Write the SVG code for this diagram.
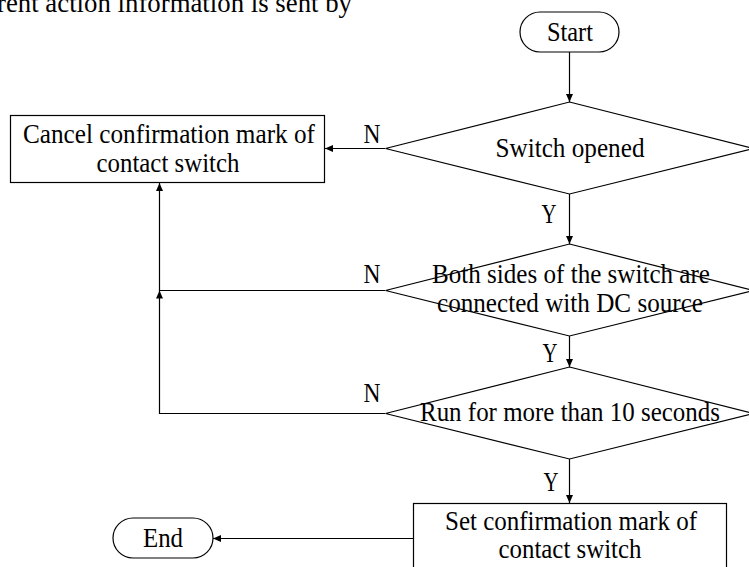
<svg xmlns="http://www.w3.org/2000/svg" width="749" height="567" viewBox="0 0 749 567">
<style>
text{font-family:"Liberation Serif","Times New Roman",serif;font-size:27px;fill:#000}
.c{text-anchor:middle}
.s{fill:#fff;stroke:#000;stroke-width:1.2}
.l{fill:none;stroke:#000;stroke-width:1.2}
</style>
<defs>
<marker id="a" markerWidth="8" markerHeight="7" refX="8" refY="3.5" orient="auto" markerUnits="userSpaceOnUse">
<path d="M0,0 L8,3.5 L0,7 Z" fill="#000"/>
</marker>
</defs>
<rect width="749" height="567" fill="#fff"/>
<text x="-3" y="12" textLength="355" lengthAdjust="spacingAndGlyphs">rent action information is sent by</text>
<g id="connectors">
<path class="l" d="M569.5,52 V102" marker-end="url(#a)"/>
<path class="l" d="M385,148.5 H325" marker-end="url(#a)"/>
<path class="l" d="M569.5,194 V244" marker-end="url(#a)"/>
<path class="l" d="M569.5,336 V367" marker-end="url(#a)"/>
<path class="l" d="M385,290.5 H159.5 V183" marker-end="url(#a)"/>
<path class="l" d="M385,413.5 H159.5 V290.5" marker-end="url(#a)"/>
<path class="l" d="M569.5,459 V503" marker-end="url(#a)"/>
<path class="l" d="M413,538.5 H213" marker-end="url(#a)"/>
<text x="372" y="143" class="c" textLength="17" lengthAdjust="spacingAndGlyphs">N</text>
<text x="372" y="283" class="c" textLength="17" lengthAdjust="spacingAndGlyphs">N</text>
<text x="372" y="402" class="c" textLength="17" lengthAdjust="spacingAndGlyphs">N</text>
<text x="549" y="223" class="c" textLength="15" lengthAdjust="spacingAndGlyphs">Y</text>
<text x="550" y="362" class="c" textLength="15" lengthAdjust="spacingAndGlyphs">Y</text>
<text x="551" y="491" class="c" textLength="15" lengthAdjust="spacingAndGlyphs">Y</text>
</g>
<g id="start">
<rect class="s" x="520" y="12" width="99" height="40" rx="20" ry="20"/>
<text x="570" y="41" class="c" textLength="46" lengthAdjust="spacingAndGlyphs">Start</text>
</g>
<g id="switch-opened">
<polygon class="s" points="569.5,102 753.5,148.5 569.5,194 385.5,148.5"/>
<text x="570" y="157" class="c" textLength="149" lengthAdjust="spacingAndGlyphs">Switch opened</text>
</g>
<g id="cancel">
<rect class="s" x="10.5" y="115.5" width="314" height="67"/>
<text x="169" y="143" class="c" textLength="292" lengthAdjust="spacingAndGlyphs">Cancel confirmation mark of</text>
<text x="168" y="172" class="c" textLength="143" lengthAdjust="spacingAndGlyphs">contact switch</text>
</g>
<g id="both-sides">
<polygon class="s" points="569.5,244 753.5,290.5 569.5,336 385.5,290.5"/>
<text x="571" y="283" class="c" textLength="278" lengthAdjust="spacingAndGlyphs">Both sides of the switch are</text>
<text x="570" y="312" class="c" textLength="266" lengthAdjust="spacingAndGlyphs">connected with DC source</text>
</g>
<g id="run-10s">
<polygon class="s" points="569.5,367 753.5,413.5 569.5,459 385.5,413.5"/>
<text x="570" y="421" class="c" textLength="300" lengthAdjust="spacingAndGlyphs">Run for more than 10 seconds</text>
</g>
<g id="set">
<rect class="s" x="413.5" y="503.5" width="313" height="68"/>
<text x="571" y="530" class="c" textLength="252" lengthAdjust="spacingAndGlyphs">Set confirmation mark of</text>
<text x="570" y="558" class="c" textLength="143" lengthAdjust="spacingAndGlyphs">contact switch</text>
</g>
<g id="end">
<rect class="s" x="113" y="518" width="100" height="40" rx="20" ry="20"/>
<text x="163" y="547" class="c" textLength="40" lengthAdjust="spacingAndGlyphs">End</text>
</g>
</svg>
